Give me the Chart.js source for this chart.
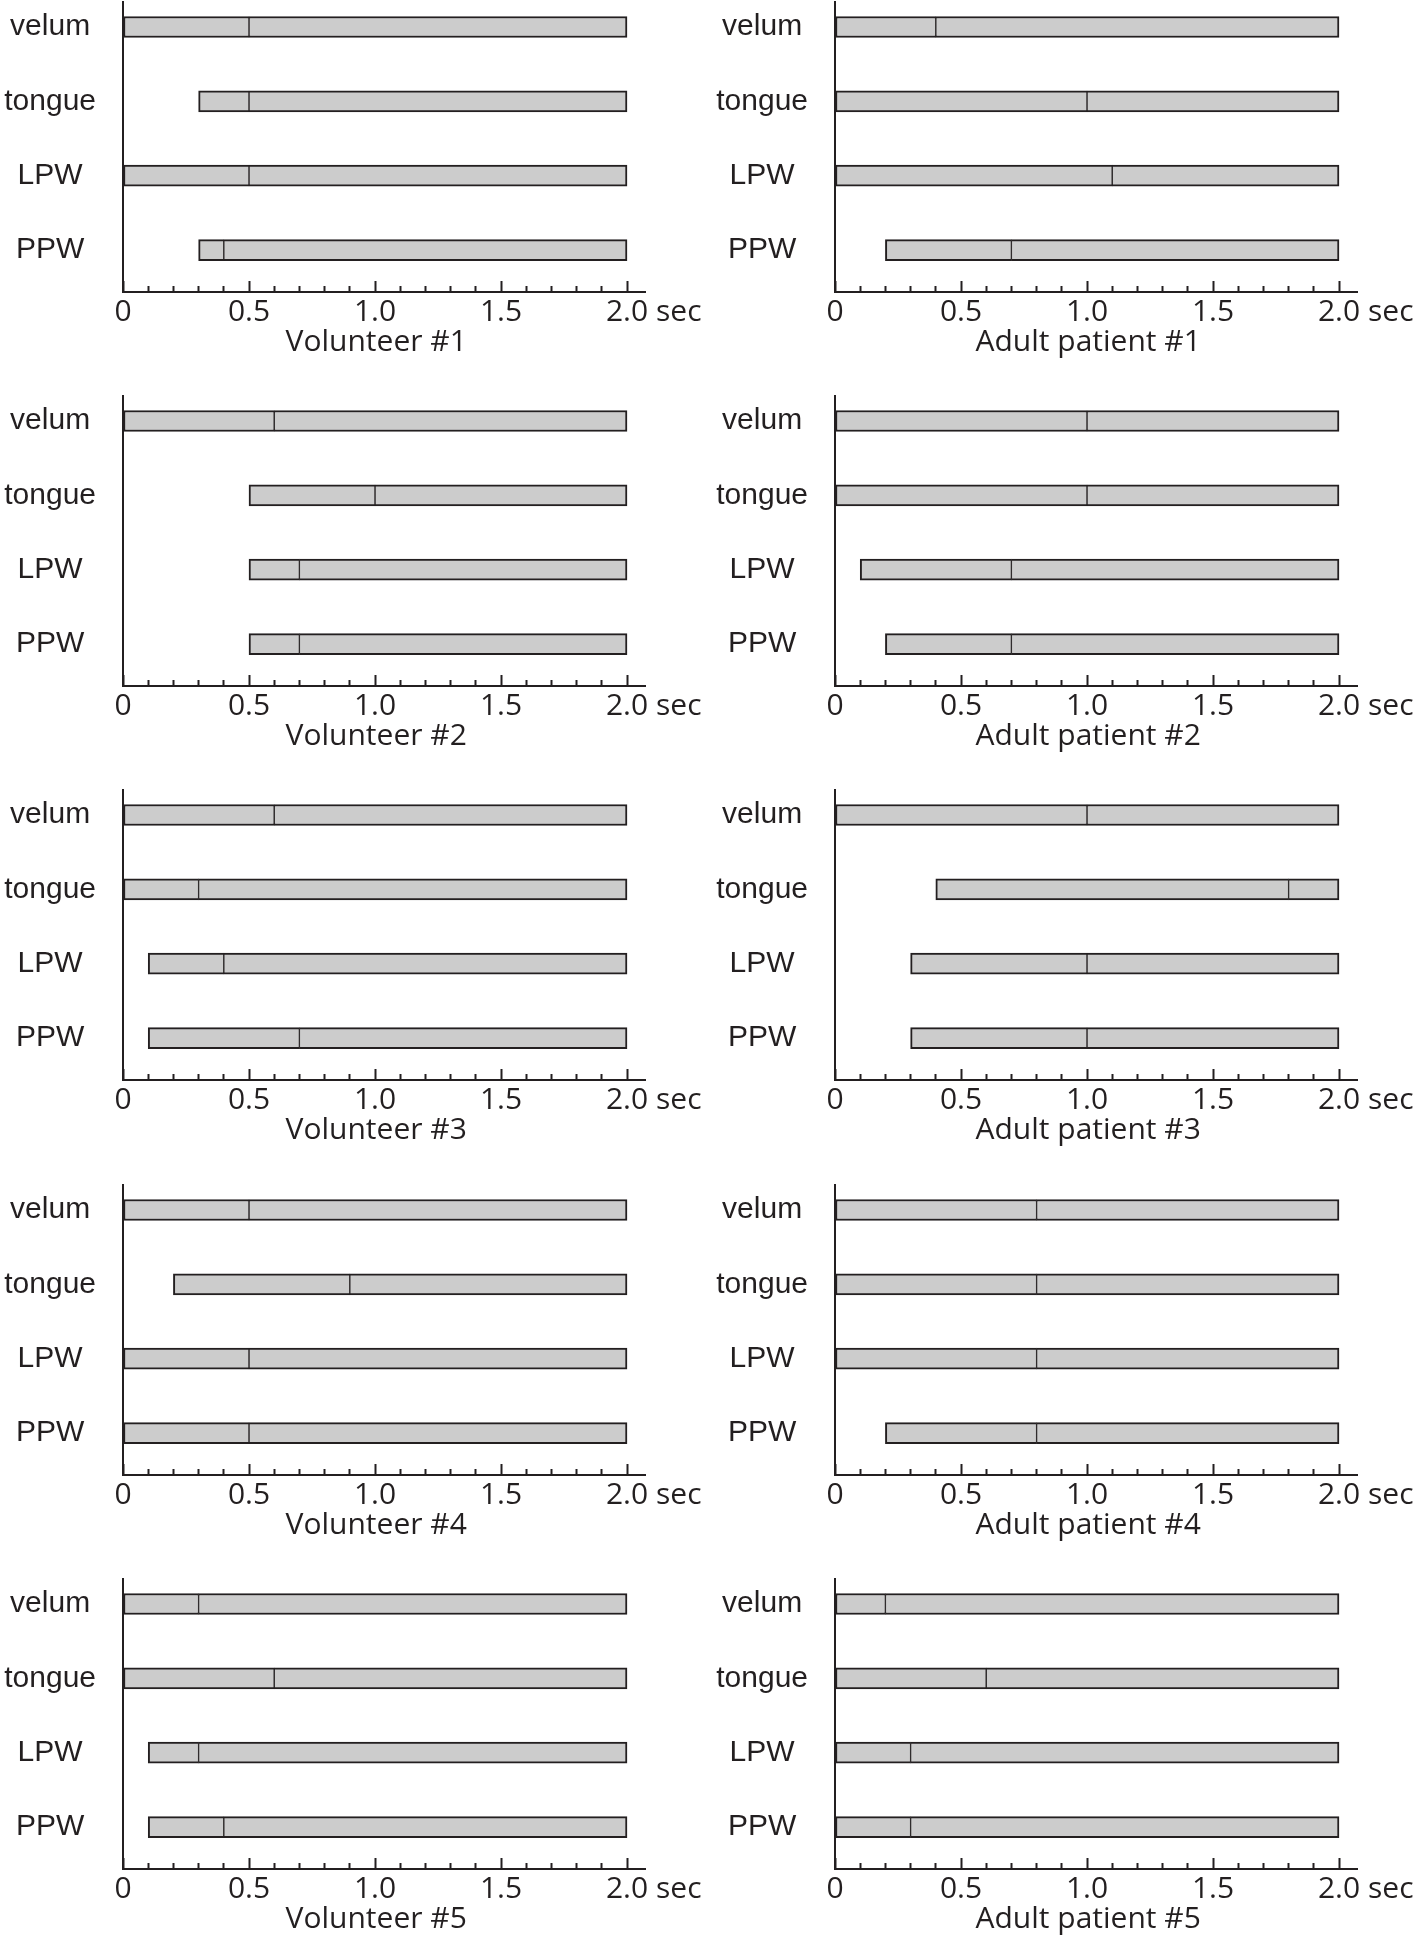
<!DOCTYPE html>
<html>
<head>
<meta charset="utf-8">
<script src="https://cdn.jsdelivr.net/npm/chart.js@4.4.1/dist/chart.umd.min.js"></script>
<style>
  html, body { margin: 0; padding: 0; background: #ffffff; }
  body { width: 1418px; height: 1941px; position: relative; overflow: hidden; }
  canvas { position: absolute; }
  .sec { position: absolute; font-family: "Open Sans", sans-serif; font-size: 30px; line-height: 30px; color: #231f20; }
</style>
</head>
<body>
<script>
// Messpunkte je Struktur (sec)
const organs = ["velum", "tongue", "LPW", "PPW"];
const volunteerTitles = ["Volunteer #1", "Volunteer #2", "Volunteer #3", "Volunteer #4", "Volunteer #5"];
const patientTitles = ["Adult patient #1", "Adult patient #2", "Adult patient #3", "Adult patient #4", "Adult patient #5"];

// Beginn des Balkens
const volunteerStart = [
  [0, 0.3, 0, 0.3],
  [0, 0.5, 0.5, 0.5],
  [0, 0, 0.1, 0.1],
  [0, 0.2, 0, 0],
  [0, 0, 0.1, 0.1]
];
// Trennstrich im Balken
const volunteerMark = [
  [0.5, 0.5, 0.5, 0.4],
  [0.6, 1.0, 0.7, 0.7],
  [0.6, 0.3, 0.4, 0.7],
  [0.5, 0.9, 0.5, 0.5],
  [0.3, 0.6, 0.3, 0.4]
];
const patientStart = [
  [0, 0, 0, 0.2],
  [0, 0, 0.1, 0.2],
  [0, 0.4, 0.3, 0.3],
  [0, 0, 0, 0.2],
  [0, 0, 0, 0]
];
const patientMark = [
  [0.4, 1.0, 1.1, 0.7],
  [1.0, 1.0, 0.7, 0.7],
  [1.0, 1.8, 1.0, 1.0],
  [0.8, 0.8, 0.8, 0.8],
  [0.2, 0.6, 0.3, 0.3]
];
const endTime = 2.0;
const tickLabels = ["0", "0.5", "1.0", "1.5", "2.0"];

const ink = "#231f20";
const rowTop = [0, 394, 788, 1183, 1577];
const colLeft = [0, 712];

// Funktion, um ein Panel zu erstellen
function createPanel(col, row, title, starts, marks) {
  const canvas = document.createElement("canvas");
  canvas.width = 706;
  canvas.height = 364;
  canvas.style.left = colLeft[col] + "px";
  canvas.style.top = rowTop[row] + "px";
  document.body.appendChild(canvas);

  const sec = document.createElement("div");
  sec.className = "sec";
  sec.textContent = "sec";
  sec.style.left = (colLeft[col] + 656) + "px";
  sec.style.top = (rowTop[row] + 295) + "px";
  document.body.appendChild(sec);

  const barStyle = {
    backgroundColor: "#cccccc",
    borderColor: ink,
    borderSkipped: false,
    grouped: false,
    barThickness: 21
  };

  return new Chart(canvas.getContext("2d"), {
    type: "bar",
    data: {
      datasets: [
        Object.assign({
          data: organs.map((o, i) => ({ x: [starts[i], marks[i]], y: i })),
          borderWidth: { top: 2, bottom: 2, left: 2, right: 1 }
        }, barStyle),
        Object.assign({
          data: organs.map((o, i) => ({ x: [marks[i], endTime], y: i })),
          borderWidth: { top: 2, bottom: 2, left: 1, right: 2 }
        }, barStyle)
      ]
    },
    options: {
      responsive: false,
      animation: false,
      indexAxis: "y",
      layout: { padding: { left: 0, right: 61, top: 2, bottom: 0 } },
      plugins: { legend: { display: false }, tooltip: { enabled: false } },
      scales: {
        y: {
          type: "linear",
          reverse: true,
          offset: false,
          min: -0.336,
          max: 3.564,
          afterBuildTicks: (s) => { s.ticks = organs.map((o, i) => ({ value: i })); },
          afterFit: (s) => {
            s.width = 123;
            s.paddingTop = 0;
            s.paddingBottom = 0;
          },
          grid: { display: false, drawTicks: false, offset: false },
          border: { display: true, color: ink, width: 2 },
          ticks: {
            callback: (v) => organs[v],
            crossAlign: "center",
            padding: 27,
            color: ink,
            font: { family: '"Liberation Sans", Arial, sans-serif', size: 30 }
          }
        },
        x: {
          type: "linear",
          min: 0,
          max: 2.0714,
          afterBuildTicks: (s) => {
            const t = [];
            for (let i = 0; i <= 20; i++) t.push({ value: i / 10 });
            s.ticks = t;
          },
          afterFit: (s) => {
            s.height = 72;
            s.paddingLeft = 0;
            s.paddingRight = 0;
          },
          grid: {
            display: true,
            drawOnChartArea: false,
            drawTicks: true,
            tickLength: -11,
            tickColor: ink,
            tickWidth: 2,
            tickBorderDash: (c) => (c.index % 5 === 0 ? [] : [7, 40])
          },
          border: { display: true, color: ink, width: 2 },
          ticks: {
            autoSkip: false,
            maxRotation: 0,
            padding: 16,
            color: ink,
            font: { family: '"Open Sans", sans-serif', size: 30, lineHeight: 1 },
            callback: (v, i) => (i % 5 === 0 ? tickLabels[i / 5] : "")
          },
          title: {
            display: true,
            // zwei Leerzeichen, damit der Titel unter 1.0 zentriert ist
            text: title + "  ",
            color: ink,
            font: { family: '"Open Sans", sans-serif', size: 30, lineHeight: 1 },
            padding: { top: 0, bottom: 7 }
          }
        }
      }
    }
  });
}

// Alle Panels zeichnen
for (let r = 0; r < 5; r++) {
  createPanel(0, r, volunteerTitles[r], volunteerStart[r], volunteerMark[r]);
  createPanel(1, r, patientTitles[r], patientStart[r], patientMark[r]);
}
</script>
</body>
</html>
